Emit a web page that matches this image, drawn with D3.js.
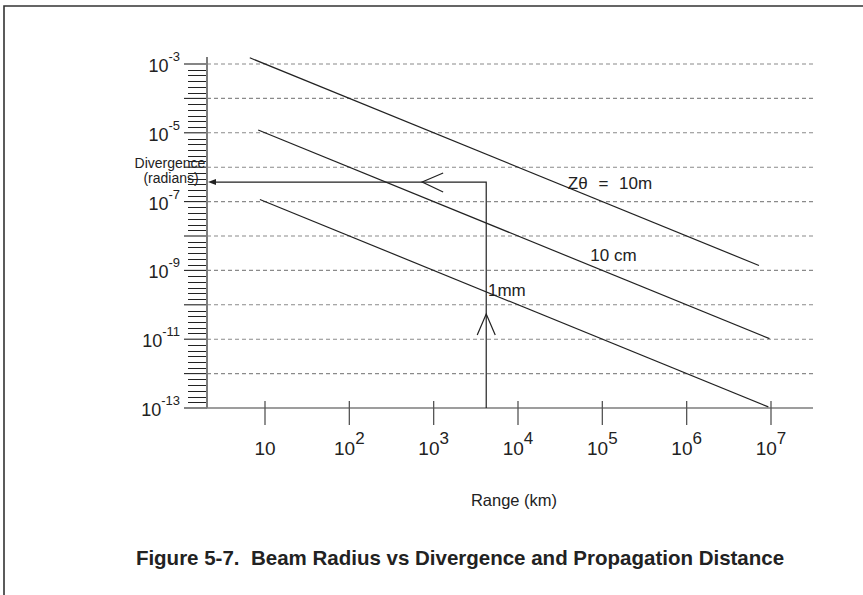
<!DOCTYPE html>
<html>
<head>
<meta charset="utf-8">
<script src="https://cdn.jsdelivr.net/npm/d3@7"></script>
<style>
  html, body { margin: 0; padding: 0; background: #fff; }
  svg { display: block; font-family: "Liberation Sans", Arial, Helvetica, sans-serif; }
</style>
</head>
<body>
<svg id="chart" width="863" height="595"></svg>
<script>
// Range axis (km): decade exponents shown as tick labels
const xTickExps = [1, 2, 3, 4, 5, 6, 7];
// Divergence axis (radians): labelled decades and gridline decades
const yLabelExps = [-3, -5, -7, -9, -11, -13];
const yGridExps = [-3, -4, -5, -6, -7, -8, -9, -10, -11, -12];

// Beam-radius lines (Z·θ constant), endpoints in km and radians
const beamLabels = ["Z\u03B8 = 10m", "10 cm", "1mm"];
const beamRanges = [[6.6, 7.2e6], [8.3, 9.6e6], [8.7, 9.3e6]];
const beamProducts = [1e-2, 1e-4, 1e-6]; // Z (m) / 1000, so θ = product / range(km)
const beamLabelPos = [[3.9e4, 2.3e-7], [7.2e4, 1.9e-9], [4400, 1.8e-10]];

// Worked example path: from the range axis up, then across to the divergence axis
const exampleRange = 4200;
const exampleDiv = 3.7e-7;
const exampleChevronRange = 730;
const exampleChevronDiv = 5.4e-11;

const svg = d3.select("#chart");

const x = d3.scaleLog().domain([1e1, 1e7]).range([265, 771]);
const y = d3.scaleLog().domain([1e-13, 1e-3]).range([408, 64]);

const xLeft = 207, xRight = 813, yTop = 57, yBottom = y(1e-13);
const ink = "#222", axisGray = "#7d7d7d", gridGray = "#8a8a8a";

// frame (top and left edges)
svg.append("path")
  .attr("d", `M4,595 L4,6 L863,6`)
  .attr("fill", "none").attr("stroke", "#333").attr("stroke-width", 1.6);

// dashed decade gridlines
svg.append("g").selectAll("line").data(yGridExps).join("line")
  .attr("x1", xLeft).attr("x2", xRight)
  .attr("y1", d => y(Math.pow(10, d))).attr("y2", d => y(Math.pow(10, d)))
  .attr("stroke", gridGray).attr("stroke-width", 1.1)
  .attr("stroke-dasharray", "4,3");

// y-axis minor ticks: five evenly spaced marks within each decade
const minorTicks = [];
for (let e = -13; e < -3; e++) {
  for (let k = 1; k <= 5; k++) minorTicks.push(e + k / 6);
}
svg.append("g").selectAll("line").data(minorTicks).join("line")
  .attr("x1", 188).attr("x2", xLeft)
  .attr("y1", d => Math.round(y(Math.pow(10, d))) + 0.5)
  .attr("y2", d => Math.round(y(Math.pow(10, d))) + 0.5)
  .attr("stroke", ink).attr("stroke-width", 1);
// y-axis major ticks at every decade
svg.append("g").selectAll("line").data(d3.range(-13, -2)).join("line")
  .attr("x1", 184).attr("x2", xLeft)
  .attr("y1", d => y(Math.pow(10, d))).attr("y2", d => y(Math.pow(10, d)))
  .attr("stroke", ink).attr("stroke-width", 1.1);

// axis lines
svg.append("line").attr("x1", xLeft).attr("x2", xLeft).attr("y1", yTop).attr("y2", yBottom)
  .attr("stroke", axisGray).attr("stroke-width", 2);
svg.append("line").attr("x1", xLeft - 1).attr("x2", xRight).attr("y1", yBottom).attr("y2", yBottom)
  .attr("stroke", axisGray).attr("stroke-width", 1.6);

// x-axis ticks
svg.append("g").selectAll("line").data(xTickExps).join("line")
  .attr("x1", d => x(Math.pow(10, d))).attr("x2", d => x(Math.pow(10, d)))
  .attr("y1", yBottom - 7).attr("y2", yBottom + 17)
  .attr("stroke", "#555").attr("stroke-width", 1.3);

// x tick labels: 10, 10², ... 10⁷
const xl = svg.append("g").selectAll("text").data(xTickExps).join("text")
  .attr("x", d => x(Math.pow(10, d)))
  .attr("y", 455)
  .attr("text-anchor", "middle")
  .attr("font-size", 19).attr("fill", ink);
xl.append("tspan").text("10");
xl.filter(d => d > 1).append("tspan")
  .attr("dy", -11).attr("font-size", 17).text(d => d);

// y tick labels: 10^-3 ... 10^-13
const yl = svg.append("g").selectAll("text").data(yLabelExps).join("text")
  .attr("x", 180)
  .attr("y", d => y(Math.pow(10, d)) + 8)
  .attr("text-anchor", "end")
  .attr("font-size", 18).attr("fill", ink);
yl.append("tspan").text("10");
yl.append("tspan").attr("dy", -11).attr("font-size", 13).text(d => d);

// beam lines
const lineGen = d3.line().x(d => x(d[0])).y(d => y(d[1]));
svg.append("g").selectAll("path").data(beamRanges).join("path")
  .attr("d", (r, i) => lineGen(r.map(R => [R, beamProducts[i] / R])))
  .attr("fill", "none").attr("stroke", ink).attr("stroke-width", 1.2);

svg.append("g").selectAll("text").data(beamLabels).join("text")
  .attr("x", (d, i) => x(beamLabelPos[i][0]))
  .attr("y", (d, i) => y(beamLabelPos[i][1]))
  .attr("font-size", 17).attr("fill", ink)
  .attr("word-spacing", (d, i) => i === 0 ? 6 : 0)
  .text(d => d);

// worked example path
const ex = x(exampleRange), ey = y(exampleDiv);
svg.append("path")
  .attr("d", `M${ex},${yBottom} L${ex},${ey} L${xLeft + 8},${ey}`)
  .attr("fill", "none").attr("stroke", ink).attr("stroke-width", 1.2);
// filled arrowhead at the divergence axis
svg.append("path")
  .attr("d", `M${xLeft + 1},${ey} L${xLeft + 9},${ey - 3} L${xLeft + 9},${ey + 3} Z`)
  .attr("fill", ink);
// open chevrons showing direction
const hx = x(exampleChevronRange);
svg.append("path")
  .attr("d", `M${hx + 21},${ey - 9} L${hx},${ey} L${hx + 21},${ey + 10}`)
  .attr("fill", "none").attr("stroke", ink).attr("stroke-width", 1.2);
const vy = y(exampleChevronDiv);
svg.append("path")
  .attr("d", `M${ex - 9},${vy + 21} L${ex},${vy} L${ex + 9},${vy + 21}`)
  .attr("fill", "none").attr("stroke", ink).attr("stroke-width", 1.2);

// axis titles
svg.append("text").attr("x", 170).attr("y", 168).attr("text-anchor", "middle")
  .attr("font-size", 14).attr("fill", ink).text("Divergence");
svg.append("text").attr("x", 171).attr("y", 183).attr("text-anchor", "middle")
  .attr("font-size", 14).attr("fill", ink).text("(radians)");
svg.append("text").attr("x", 514).attr("y", 506).attr("text-anchor", "middle")
  .attr("font-size", 16.5).attr("fill", ink).text("Range (km)");

// caption
svg.append("text").attr("x", 460).attr("y", 565).attr("text-anchor", "middle")
  .attr("font-size", 20.5).attr("font-weight", "bold").attr("fill", ink)
  .attr("xml:space", "preserve")
  .text("Figure 5-7.  Beam Radius vs Divergence and Propagation Distance");
</script>
</body>
</html>
